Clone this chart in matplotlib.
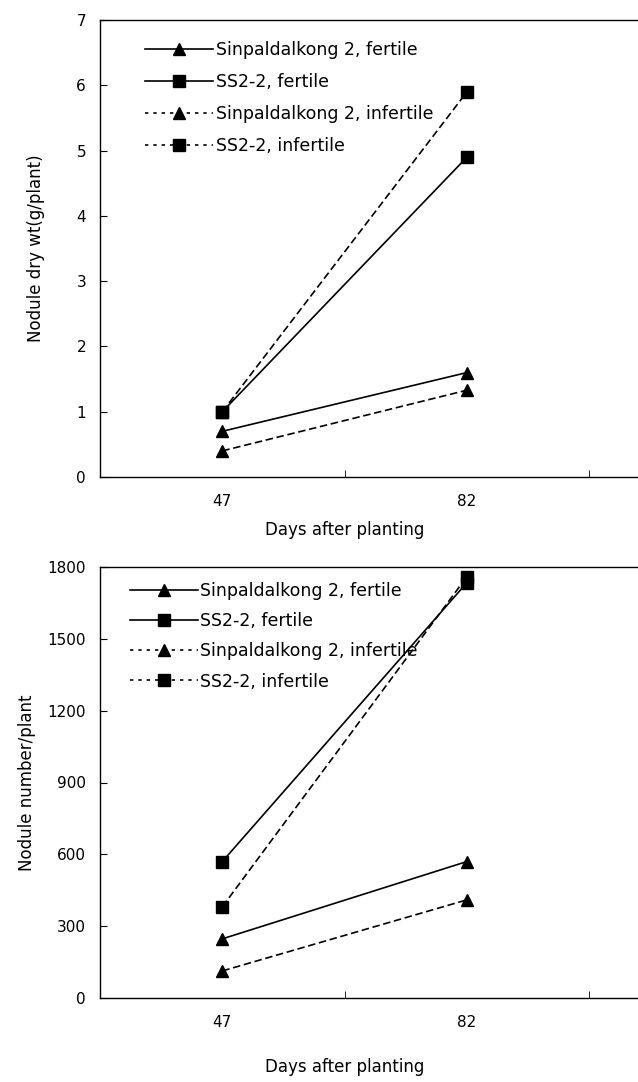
import matplotlib.pyplot as plt
from matplotlib.lines import Line2D

# data
days = ['47', '82']
dry_sin_fert = [0.7, 1.6]
dry_ss_fert = [1.0, 4.9]
dry_sin_inf = [0.4, 1.33]
dry_ss_inf = [1.0, 5.9]

num_sin_fert = [247, 570]
num_ss_fert = [570, 1735]
num_sin_inf = [113, 410]
num_ss_inf = [381, 1760]

labels = ['Sinpaldalkong 2, fertile', 'SS2-2, fertile',
          'Sinpaldalkong 2, infertile', 'SS2-2, infertile']

plt.rcParams['font.family'] = ['DejaVu Sans']
plt.rcParams['font.size'] = 12

fig = plt.figure(figsize=(6.38, 10.82), dpi=100)
W, H = 638.0, 1082.0

dash = (0, (4.5, 2.2))
styles = [('-', '^'), ('-', 's'), (dash, '^'), (dash, 's')]


def panel(rect, series, ylim, yticks, ylabel, ylab_x, xlab_off,
          leg_anchor, leg_space):
    ax = fig.add_axes(rect)
    x = list(range(len(days)))
    for (ls, mk), ys in zip(styles, series):
        ax.plot(x, ys, color='black', linestyle=ls, marker=mk, ms=8, lw=1.2,
                clip_on=False)
    ax.set_xlim(-0.5, 1.699)
    ax.set_ylim(*ylim)
    ax.set_yticks(yticks)
    ax.set_xticks(x)
    ax.set_xticklabels(days)
    ax.set_xticks([0.5, 1.5], minor=True)
    ax.tick_params(axis='x', which='major', length=0, pad=12, labelsize=11)
    ax.tick_params(axis='x', which='minor', direction='in', length=5)
    ax.tick_params(axis='y', direction='in', length=5, pad=10, labelsize=11)
    ax.spines['right'].set_visible(False)
    for s in ['left', 'top', 'bottom']:
        ax.spines[s].set_linewidth(1.0)
    h_px = rect[3] * H
    ax.set_xlabel('Days after planting')
    ax.xaxis.set_label_coords(0.4548, -xlab_off / h_px)
    ax.set_ylabel(ylabel)
    ax.yaxis.set_label_coords((ylab_x - 100) / 538, 0.5)
    handles = [Line2D([], [], color='black', linestyle=ls if ls == '-' else (0, (2, 3)),
                      marker=mk, ms=8, lw=1.2) for ls, mk in styles]
    ax.legend(handles, labels, loc='upper left', bbox_to_anchor=leg_anchor,
              frameon=False, handlelength=3.9, handletextpad=0.15,
              labelspacing=leg_space, borderpad=0, borderaxespad=0, fontsize=12.5)
    return ax


top_rect = [100 / W, 1 - 477 / H, 538 / W, 457 / H]
bot_rect = [100 / W, 1 - 998 / H, 538 / W, 431 / H]

panel(top_rect, [dry_sin_fert, dry_ss_fert, dry_sin_inf, dry_ss_inf],
      (0, 7), range(0, 8), 'Nodule dry wt(g/plant)', 45, 44, (0.084, 0.953), 0.8)
panel(bot_rect, [num_sin_fert, num_ss_fert, num_sin_inf, num_ss_inf],
      (0, 1800), range(0, 1801, 300), 'Nodule number/plant', 36, 60,
      (0.056, 0.965), 0.7)

fig.savefig('out.png', dpi=100)
